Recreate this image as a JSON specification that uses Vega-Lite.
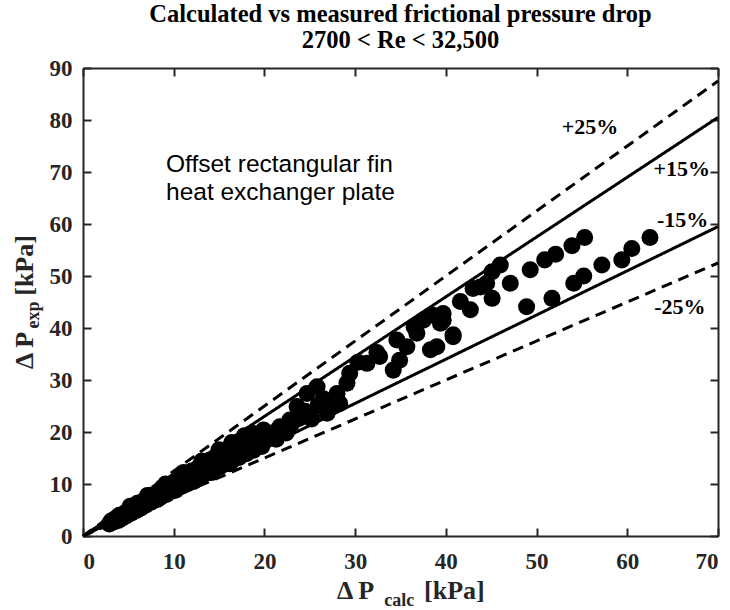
{
  "$schema": "https://vega.github.io/schema/vega-lite/v6.json",
  "width": 635,
  "height": 468,
  "autosize": {"type": "none"},
  "padding": {"left": 83, "top": 68, "right": 12, "bottom": 74},
  "background": "white",
  "config": {
    "view": {"stroke": null},
    "font": "Liberation Serif",
    "axis": {
      "grid": false,
      "zindex": 1,
      "domainColor": "#262626",
      "domainWidth": 2,
      "tickColor": "#262626",
      "tickWidth": 2,
      "tickSize": -8,
      "labelFont": "Liberation Serif",
      "labelFontWeight": "bold",
      "labelFontSize": 23,
      "labelColor": "#262626",
      "title": null
    }
  },
  "title": {
    "text": ["Calculated vs measured frictional pressure drop", "2700 < Re < 32,500"],
    "font": "Liberation Serif",
    "fontSize": 24.5,
    "fontWeight": "bold",
    "color": "#000000",
    "anchor": "middle",
    "frame": "group",
    "lineHeight": 26,
    "offset": 4
  },
  "datasets": {
    "lines": [
      {"band": "+25%", "x0": 0, "y0": 0, "x1": 70, "y1": 87.5, "kind": "dashed"},
      {"band": "+15%", "x0": 0, "y0": 0, "x1": 70, "y1": 80.5, "kind": "solid"},
      {"band": "-15%", "x0": 0, "y0": 0, "x1": 70, "y1": 59.5, "kind": "solid"},
      {"band": "-25%", "x0": 0, "y0": 0, "x1": 70, "y1": 52.5, "kind": "dashed"}
    ],
    "pts": [
      {"calc": 2.9, "exp": 2.3}, {"calc": 3.1, "exp": 2.9}, {"calc": 3.4, "exp": 2.7}, {"calc": 3.6, "exp": 3.4},
      {"calc": 3.9, "exp": 3.0}, {"calc": 4.1, "exp": 3.9}, {"calc": 4.3, "exp": 3.4}, {"calc": 4.6, "exp": 4.4},
      {"calc": 4.8, "exp": 3.9}, {"calc": 5.1, "exp": 5.0}, {"calc": 5.3, "exp": 4.4}, {"calc": 5.6, "exp": 5.5},
      {"calc": 5.9, "exp": 4.9}, {"calc": 6.1, "exp": 6.1}, {"calc": 6.4, "exp": 5.4}, {"calc": 6.7, "exp": 6.8},
      {"calc": 6.9, "exp": 5.9}, {"calc": 7.2, "exp": 7.3}, {"calc": 7.5, "exp": 6.5}, {"calc": 7.7, "exp": 7.9},
      {"calc": 8.0, "exp": 7.0}, {"calc": 8.3, "exp": 8.6}, {"calc": 8.6, "exp": 7.5}, {"calc": 8.9, "exp": 9.2},
      {"calc": 9.2, "exp": 8.0}, {"calc": 9.5, "exp": 9.8}, {"calc": 9.8, "exp": 8.6}, {"calc": 10.1, "exp": 10.5},
      {"calc": 10.4, "exp": 9.2}, {"calc": 10.7, "exp": 11.1}, {"calc": 11.0, "exp": 9.7}, {"calc": 11.4, "exp": 11.8},
      {"calc": 11.7, "exp": 10.3}, {"calc": 12.0, "exp": 12.5}, {"calc": 12.4, "exp": 10.9}, {"calc": 12.7, "exp": 13.1},
      {"calc": 13.0, "exp": 11.5}, {"calc": 13.4, "exp": 13.9}, {"calc": 13.7, "exp": 12.1}, {"calc": 14.0, "exp": 14.6},
      {"calc": 14.4, "exp": 12.7}, {"calc": 14.7, "exp": 15.3}, {"calc": 15.1, "exp": 13.3}, {"calc": 15.4, "exp": 16.1},
      {"calc": 15.8, "exp": 13.9}, {"calc": 16.1, "exp": 16.8}, {"calc": 16.5, "exp": 14.6}, {"calc": 16.8, "exp": 17.5},
      {"calc": 17.2, "exp": 15.1}, {"calc": 17.6, "exp": 18.2}, {"calc": 18.0, "exp": 15.8}, {"calc": 18.4, "exp": 19.0},
      {"calc": 18.8, "exp": 16.5}, {"calc": 19.2, "exp": 19.4}, {"calc": 19.7, "exp": 17.2}, {"calc": 20.3, "exp": 18.5},
      {"calc": 20.8, "exp": 19.8}, {"calc": 21.3, "exp": 18.6}, {"calc": 21.9, "exp": 20.5}, {"calc": 22.4, "exp": 19.8},
      {"calc": 23.0, "exp": 21.6}, {"calc": 23.8, "exp": 22.6}, {"calc": 24.5, "exp": 24.0}, {"calc": 25.2, "exp": 22.5},
      {"calc": 25.9, "exp": 25.1}, {"calc": 26.5, "exp": 26.4}, {"calc": 27.2, "exp": 24.5}, {"calc": 27.8, "exp": 26.3},
      {"calc": 4.0, "exp": 4.0}, {"calc": 5.0, "exp": 5.0}, {"calc": 6.0, "exp": 6.3}, {"calc": 7.0, "exp": 6.9},
      {"calc": 8.0, "exp": 8.0}, {"calc": 9.0, "exp": 9.4}, {"calc": 11.0, "exp": 10.6}, {"calc": 12.0, "exp": 11.6},
      {"calc": 13.2, "exp": 12.9}, {"calc": 15.0, "exp": 14.6}, {"calc": 17.0, "exp": 16.4}, {"calc": 19.0, "exp": 18.2},
      {"calc": 5.2, "exp": 5.7}, {"calc": 7.1, "exp": 7.8}, {"calc": 9.1, "exp": 10.0}, {"calc": 11.1, "exp": 12.2},
      {"calc": 13.1, "exp": 14.4}, {"calc": 15.0, "exp": 16.6}, {"calc": 16.4, "exp": 18.0}, {"calc": 17.8, "exp": 19.3},
      {"calc": 6.2, "exp": 5.3}, {"calc": 8.2, "exp": 7.0}, {"calc": 10.2, "exp": 8.8}, {"calc": 12.2, "exp": 10.5},
      {"calc": 14.2, "exp": 12.2}, {"calc": 16.2, "exp": 13.9},
      {"calc": 18.8, "exp": 19.7}, {"calc": 19.9, "exp": 20.4}, {"calc": 21.7, "exp": 21.0}, {"calc": 22.8, "exp": 22.3},
      {"calc": 23.6, "exp": 24.9}, {"calc": 24.7, "exp": 27.4}, {"calc": 25.8, "exp": 28.7}, {"calc": 26.9, "exp": 23.6},
      {"calc": 28.3, "exp": 25.5}, {"calc": 28.0, "exp": 27.4}, {"calc": 29.1, "exp": 29.4}, {"calc": 29.4, "exp": 31.3},
      {"calc": 30.3, "exp": 33.4}, {"calc": 31.3, "exp": 33.2}, {"calc": 32.4, "exp": 35.3}, {"calc": 32.7, "exp": 34.5},
      {"calc": 34.6, "exp": 37.7}, {"calc": 34.2, "exp": 31.9}, {"calc": 34.9, "exp": 33.8}, {"calc": 35.7, "exp": 36.4},
      {"calc": 36.5, "exp": 40.2}, {"calc": 36.8, "exp": 39.0}, {"calc": 37.5, "exp": 41.5}, {"calc": 38.3, "exp": 35.8},
      {"calc": 38.5, "exp": 42.5}, {"calc": 39.7, "exp": 41.5}, {"calc": 40.8, "exp": 38.7}, {"calc": 44.5, "exp": 48.6},
      {"calc": 55.3, "exp": 57.4}, {"calc": 53.9, "exp": 55.8}, {"calc": 52.1, "exp": 54.2}, {"calc": 50.9, "exp": 53.1},
      {"calc": 49.3, "exp": 51.2}, {"calc": 47.1, "exp": 48.6}, {"calc": 46.0, "exp": 52.1}, {"calc": 45.1, "exp": 50.8},
      {"calc": 45.1, "exp": 45.7}, {"calc": 43.8, "exp": 47.9}, {"calc": 42.7, "exp": 43.5}, {"calc": 43.0, "exp": 47.6},
      {"calc": 41.6, "exp": 45.1}, {"calc": 40.8, "exp": 38.3}, {"calc": 39.4, "exp": 40.9}, {"calc": 39.0, "exp": 36.4},
      {"calc": 39.7, "exp": 42.8},
      {"calc": 62.5, "exp": 57.4}, {"calc": 60.5, "exp": 55.3}, {"calc": 59.4, "exp": 53.1}, {"calc": 57.2, "exp": 52.1},
      {"calc": 55.2, "exp": 50.0}, {"calc": 54.1, "exp": 48.6}, {"calc": 51.7, "exp": 45.7}, {"calc": 48.9, "exp": 44.1}
    ],
    "bandLabels": [
      {"label": "+25%", "calc": 55.9, "exp": 78.6},
      {"label": "+15%", "calc": 66.0, "exp": 70.6},
      {"label": "-15%", "calc": 66.1, "exp": 60.8},
      {"label": "-25%", "calc": 65.8, "exp": 44.0}
    ],
    "note": [
      {"line": "Offset rectangular fin", "calc": 9.15, "exp": 70.0},
      {"line": "heat exchanger plate", "calc": 9.15, "exp": 64.6}
    ],
    "xTitleMain": [
      {"part": "Δ P", "calc": 28.0, "exp": -12.1},
      {"part": "[kPa]", "calc": 37.6, "exp": -12.1}
    ],
    "xTitleSub": [{"part": "calc", "calc": 33.2, "exp": -13.5}],
    "yTitleMain": [
      {"part": "Δ P", "calc": -5.5, "exp": 32.1},
      {"part": "[kPa]", "calc": -5.5, "exp": 46.2}
    ],
    "yTitleSub": [{"part": "exp", "calc": -4.9, "exp": 39.9}]
  },
  "resolve": {"axis": {"x": "independent", "y": "independent"}},
  "layer": [
    {
      "data": {"name": "lines"},
      "mark": {"type": "rule", "strokeWidth": 3, "color": "#000000"},
      "encoding": {
        "x": {"field": "x0", "type": "quantitative", "scale": {"domain": [0, 70], "nice": false},
              "axis": {"orient": "bottom", "values": [0, 10, 20, 30, 40, 50, 60, 70], "labelPadding": 22}},
        "y": {"field": "y0", "type": "quantitative", "scale": {"domain": [0, 90], "nice": false},
              "axis": {"orient": "left", "values": [0, 10, 20, 30, 40, 50, 60, 70, 80, 90], "labelPadding": 19}},
        "x2": {"field": "x1"},
        "y2": {"field": "y1"},
        "strokeDash": {
          "field": "kind", "type": "nominal",
          "scale": {"domain": ["dashed", "solid"], "range": [[11, 7], [1, 0]]},
          "legend": null
        }
      }
    },
    {
      "data": {"name": "pts"},
      "mark": {"type": "circle", "size": 290, "color": "#000000", "opacity": 1},
      "encoding": {
        "x": {"field": "calc", "type": "quantitative",
              "axis": {"orient": "top", "values": [0, 10, 20, 30, 40, 50, 60, 70], "labels": false}},
        "y": {"field": "exp", "type": "quantitative",
              "axis": {"orient": "right", "values": [0, 10, 20, 30, 40, 50, 60, 70, 80, 90], "labels": false}}
      }
    },
    {
      "data": {"name": "bandLabels"},
      "mark": {"type": "text", "font": "Liberation Serif", "fontWeight": "bold", "fontSize": 22, "color": "#000000", "align": "center", "baseline": "middle"},
      "encoding": {
        "x": {"field": "calc", "type": "quantitative", "axis": null},
        "y": {"field": "exp", "type": "quantitative", "axis": null},
        "text": {"field": "label"}
      }
    },
    {
      "data": {"name": "note"},
      "mark": {"type": "text", "font": "Liberation Sans", "fontSize": 24.5, "color": "#000000", "align": "left", "baseline": "alphabetic"},
      "encoding": {
        "x": {"field": "calc", "type": "quantitative", "axis": null},
        "y": {"field": "exp", "type": "quantitative", "axis": null},
        "text": {"field": "line"}
      }
    },
    {
      "data": {"name": "xTitleMain"},
      "mark": {"type": "text", "font": "Liberation Serif", "fontWeight": "bold", "fontSize": 26, "color": "#262626", "align": "left", "baseline": "alphabetic"},
      "encoding": {
        "x": {"field": "calc", "type": "quantitative", "axis": null},
        "y": {"field": "exp", "type": "quantitative", "axis": null},
        "text": {"field": "part"}
      }
    },
    {
      "data": {"name": "xTitleSub"},
      "mark": {"type": "text", "font": "Liberation Serif", "fontWeight": "bold", "fontSize": 18, "color": "#262626", "align": "left", "baseline": "alphabetic"},
      "encoding": {
        "x": {"field": "calc", "type": "quantitative", "axis": null},
        "y": {"field": "exp", "type": "quantitative", "axis": null},
        "text": {"field": "part"}
      }
    },
    {
      "data": {"name": "yTitleMain"},
      "mark": {"type": "text", "font": "Liberation Serif", "fontWeight": "bold", "fontSize": 26, "color": "#262626", "align": "left", "baseline": "alphabetic", "angle": 270},
      "encoding": {
        "x": {"field": "calc", "type": "quantitative", "axis": null},
        "y": {"field": "exp", "type": "quantitative", "axis": null},
        "text": {"field": "part"}
      }
    },
    {
      "data": {"name": "yTitleSub"},
      "mark": {"type": "text", "font": "Liberation Serif", "fontWeight": "bold", "fontSize": 18, "color": "#262626", "align": "left", "baseline": "alphabetic", "angle": 270},
      "encoding": {
        "x": {"field": "calc", "type": "quantitative", "axis": null},
        "y": {"field": "exp", "type": "quantitative", "axis": null},
        "text": {"field": "part"}
      }
    }
  ]
}
